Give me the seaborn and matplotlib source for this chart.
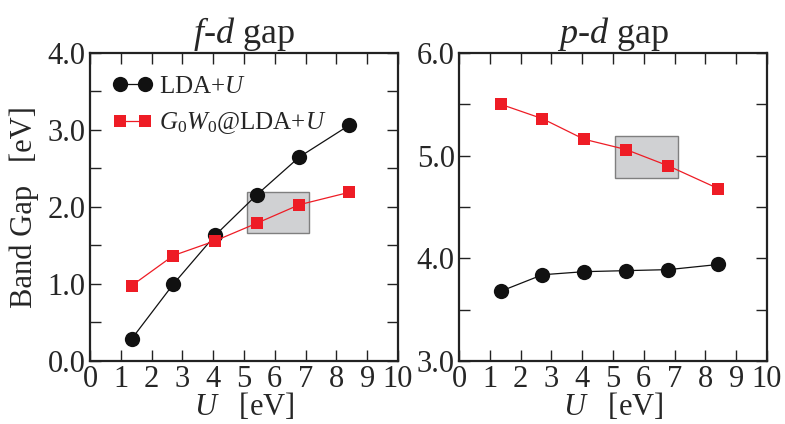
import matplotlib
matplotlib.use("Agg")
import matplotlib.pyplot as plt
import seaborn as sns
import pandas as pd
from matplotlib.patches import Rectangle
from matplotlib.ticker import MultipleLocator, FormatStrFormatter

# ---- data ----
U_vals = [1.36, 2.71, 4.06, 5.42, 6.80, 8.41]
fd_lda = [0.29, 1.00, 1.63, 2.16, 2.65, 3.06]
fd_gw = [0.98, 1.37, 1.56, 1.79, 2.03, 2.19]
pd_lda = [3.68, 3.84, 3.87, 3.88, 3.89, 3.94]
pd_gw = [5.50, 5.36, 5.16, 5.06, 4.90, 4.68]
box_fd = [5.1, 7.1, 1.66, 2.19]   # x0, x1, y0, y1
box_pd = [5.05, 7.12, 4.78, 5.19]
titles = ["$f$-$d$ gap", "$p$-$d$ gap"]
series_names = ["LDA+$U$", "$G_0W_0$@LDA+$U$"]
ylims = [(0.0, 4.0), (3.0, 6.0)]

sns.set_theme(style="ticks")
plt.rcParams["font.family"] = ["Liberation Serif", "DejaVu Serif"]
plt.rcParams["mathtext.fontset"] = "custom"
plt.rcParams["mathtext.rm"] = "Liberation Serif"
plt.rcParams["mathtext.it"] = "Liberation Serif:italic"
plt.rcParams["mathtext.bf"] = "Liberation Serif:bold"

fig = plt.figure(figsize=(7.85, 4.24), dpi=100)
ax1 = fig.add_axes([0.1146, 0.1486, 0.3924, 0.7264])
ax2 = fig.add_axes([0.5847, 0.1486, 0.3924, 0.7264])

red = "#ee1c25"
black = "#111111"

datasets = [(ax1, fd_lda, fd_gw, box_fd), (ax2, pd_lda, pd_gw, box_pd)]
for i, (ax, lda, gw, box) in enumerate(datasets):
    df = pd.DataFrame({"U": U_vals * 2,
                       "gap": lda + gw,
                       "series": [series_names[0]] * len(U_vals) + [series_names[1]] * len(U_vals)})
    ax.add_patch(Rectangle((box[0], box[2]), box[1] - box[0], box[3] - box[2],
                           facecolor="#d0d1d3", edgecolor="#7f7f7f", linewidth=1.0, zorder=1))
    sns.lineplot(data=df[df.series == series_names[0]], x="U", y="gap", ax=ax,
                 color=black, marker="o", markersize=11, markeredgewidth=0,
                 linewidth=0.9, label=series_names[0], zorder=3)
    sns.lineplot(data=df[df.series == series_names[1]], x="U", y="gap", ax=ax,
                 color=red, marker="s", markersize=9, markeredgewidth=0,
                 linewidth=0.9, label=series_names[1], zorder=3)
    ax.set_xlim(0, 10)
    ax.set_ylim(*ylims[i])
    ax.xaxis.set_major_locator(MultipleLocator(1))
    ax.yaxis.set_major_locator(MultipleLocator(1.0))
    ax.yaxis.set_minor_locator(MultipleLocator(0.5))
    ax.yaxis.set_major_formatter(FormatStrFormatter("%.1f"))
    ax.tick_params(which="both", direction="in", top=True, right=True,
                   length=8, width=1.0, labelsize=22, pad=3, color="#222222")
    ax.tick_params(axis="x", pad=3)
    for s in ax.spines.values():
        s.set_linewidth(1.6)
        s.set_color("#222222")
    ax.set_xlabel("$U$   [eV]", fontsize=22, labelpad=-2)
    ax.set_ylabel("")
    ax.set_title(titles[i], fontsize=26, pad=7)
    if i == 0:
        ax.legend(loc="upper left", frameon=False, fontsize=18, numpoints=2,
                  handlelength=1.6, handletextpad=0.25, borderaxespad=0.6,
                  labelspacing=0.5, borderpad=0.3)
    else:
        ax.get_legend().remove()

ax1.set_ylabel("Band Gap   [eV]", fontsize=22, labelpad=6)

fig.savefig("out.png", dpi=100)
